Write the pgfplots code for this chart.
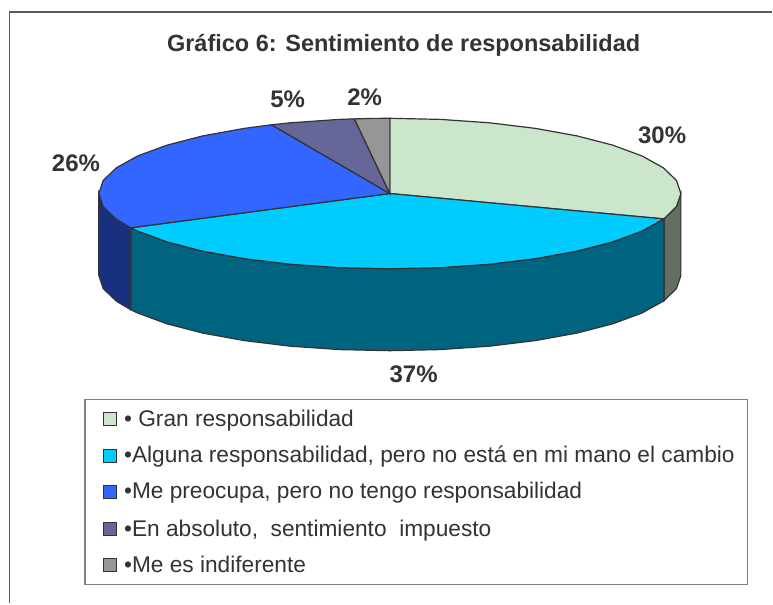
\documentclass[border=0pt]{standalone}
\usepackage{pgfplots}
\pgfplotsset{compat=1.18}
\usepackage{fontspec}
\setmainfont{Liberation Sans}
\definecolor{txt}{HTML}{333333}
\definecolor{edge}{HTML}{333333}
\definecolor{sA}{HTML}{CCE6CC}
\definecolor{sB}{HTML}{00CCFF}
\definecolor{sC}{HTML}{3366FF}
\definecolor{sD}{HTML}{666699}
\definecolor{sE}{HTML}{969696}
\definecolor{wA}{HTML}{626F62}
\definecolor{wB}{HTML}{006480}
\definecolor{wC}{HTML}{18307E}
\definecolor{framec}{HTML}{5A5A5A}
\definecolor{legc}{HTML}{808080}
\begin{document}
\begin{tikzpicture}[x=1pt,y=1pt]
\begin{axis}[
  at={(0,0)},anchor=south west,
  scale only axis,width=773pt,height=604pt,
  xmin=0,xmax=773,ymin=0,ymax=604,y dir=reverse,
  hide axis,clip=false,
]
% page
\addplot[fill=white,draw=none] coordinates {(0,0)(773,0)(773,604)(0,604)} -- cycle;
% frame
\addplot[draw=framec,line width=1.4pt] coordinates {(9.5,604)(9.5,12)(773,12)};
% walls
\addplot[fill=wA,draw=edge,line width=1.2pt] coordinates {(664.5,219.1)(677.1,206.8)(681.5,193.7)(681.5,275.7)(677.1,288.8)(664.5,301.1)} -- cycle;
\addplot[fill=wB,draw=edge,line width=1.2pt] coordinates {(664.5,219.1)(642.5,231.35)(613.3,242.1)(577.4,251.4)(535.9,258.9)(489.8,264.5)(440.8,267.9)(390.2,269.0)(339.6,267.9)(290.6,264.5)(244.5,258.9)(203.0,251.4)(167.1,242.1)(137.9,231.35)(130.9,228.0)(130.9,310.0)(137.9,313.35)(167.1,324.1)(203.0,333.4)(244.5,340.9)(290.6,346.5)(339.6,349.9)(390.2,351.0)(440.8,349.9)(489.8,346.5)(535.9,340.9)(577.4,333.4)(613.3,324.1)(642.5,313.35)(664.5,301.1)} -- cycle;
\addplot[fill=wC,draw=edge,line width=1.2pt] coordinates {(130.9,228.0)(116.5,219.45)(103.3,206.8)(98.9,193.7)(98.9,275.7)(103.3,288.8)(116.5,301.45)(130.9,310.0)} -- cycle;
% top slices
\addplot[fill=sA,draw=edge,line width=1.2pt] coordinates {(390.2,193.7)(390.2,118.4)(440.8,119.5)(489.8,122.9)(535.9,128.5)(577.4,136.0)(613.3,145.3)(642.5,156.05)(663.9,167.95)(677.1,180.6)(681.5,193.7)(677.1,206.8)(664.5,219.1)} -- cycle;
\addplot[fill=sB,draw=edge,line width=1.2pt] coordinates {(390.2,193.7)(664.5,219.1)(642.5,231.35)(613.3,242.1)(577.4,251.4)(535.9,258.9)(489.8,264.5)(440.8,267.9)(390.2,269.0)(339.6,267.9)(290.6,264.5)(244.5,258.9)(203.0,251.4)(167.1,242.1)(137.9,231.35)(130.9,228.0)} -- cycle;
\addplot[fill=sC,draw=edge,line width=1.2pt] coordinates {(390.2,193.7)(130.9,228.0)(116.5,219.45)(103.3,206.8)(98.9,193.7)(103.3,180.6)(116.5,167.95)(137.9,156.05)(167.1,145.3)(203.0,136.0)(244.5,128.5)(271.7,124.9)} -- cycle;
\addplot[fill=sD,draw=edge,line width=1.2pt] coordinates {(390.2,193.7)(271.7,124.9)(290.6,122.9)(339.6,119.5)(354.7,119.0)} -- cycle;
\addplot[fill=sE,draw=edge,line width=1.2pt] coordinates {(390.2,193.7)(354.7,119.0)(372.5,118.5)(390.2,118.4)} -- cycle;
% legend box
\addplot[fill=white,draw=legc,line width=1.2pt] coordinates {(85,399.5)(748,399.5)(748,585)(85,585)} -- cycle;
% swatches
\addplot[fill=sA,draw=edge,line width=0.9pt] coordinates {(103.5,413)(117,413)(117,426)(103.5,426)} -- cycle;
\addplot[fill=sB,draw=edge,line width=0.9pt] coordinates {(103.5,449.5)(117,449.5)(117,462.5)(103.5,462.5)} -- cycle;
\addplot[fill=sC,draw=edge,line width=0.9pt] coordinates {(103.5,485.5)(117,485.5)(117,498.5)(103.5,498.5)} -- cycle;
\addplot[fill=sD,draw=edge,line width=0.9pt] coordinates {(103.5,523)(117,523)(117,536)(103.5,536)} -- cycle;
\addplot[fill=sE,draw=edge,line width=0.9pt] coordinates {(103.5,559)(117,559)(117,572)(103.5,572)} -- cycle;
% texts
\node[text=txt,font=\bfseries\fontsize{23.5}{28}\selectfont,anchor=base] at (axis cs:404,52) {Gráfico 6: Sentimiento de responsabilidad};
\node[text=txt,font=\bfseries\fontsize{24}{28}\selectfont,anchor=base] at (axis cs:662.7,144) {30\%};
\node[text=txt,font=\bfseries\fontsize{24}{28}\selectfont,anchor=base] at (axis cs:414,383) {37\%};
\node[text=txt,font=\bfseries\fontsize{24}{28}\selectfont,anchor=base] at (axis cs:76,171.7) {26\%};
\node[text=txt,font=\bfseries\fontsize{24}{28}\selectfont,anchor=base] at (axis cs:288,107.3) {5\%};
\node[text=txt,font=\bfseries\fontsize{24}{28}\selectfont,anchor=base] at (axis cs:365,105.7) {2\%};
\node[text=txt,font=\fontsize{22.7}{27}\selectfont,anchor=base west,inner sep=0pt] at (axis cs:124,426.7) {• Gran responsabilidad};
\node[text=txt,font=\fontsize{22.7}{27}\selectfont,anchor=base west,inner sep=0pt] at (axis cs:124,463) {•Alguna responsabilidad, pero no está en mi mano el cambio};
\node[text=txt,font=\fontsize{22.7}{27}\selectfont,anchor=base west,inner sep=0pt] at (axis cs:124,499) {•Me preocupa, pero no tengo responsabilidad};
\node[text=txt,font=\fontsize{22.7}{27}\selectfont,anchor=base west,inner sep=0pt] at (axis cs:124,536.7) {•En absoluto,\ \ sentimiento\ \ impuesto};
\node[text=txt,font=\fontsize{22.7}{27}\selectfont,anchor=base west,inner sep=0pt] at (axis cs:124,572.7) {•Me es indiferente};
\end{axis}
\end{tikzpicture}
\end{document}
